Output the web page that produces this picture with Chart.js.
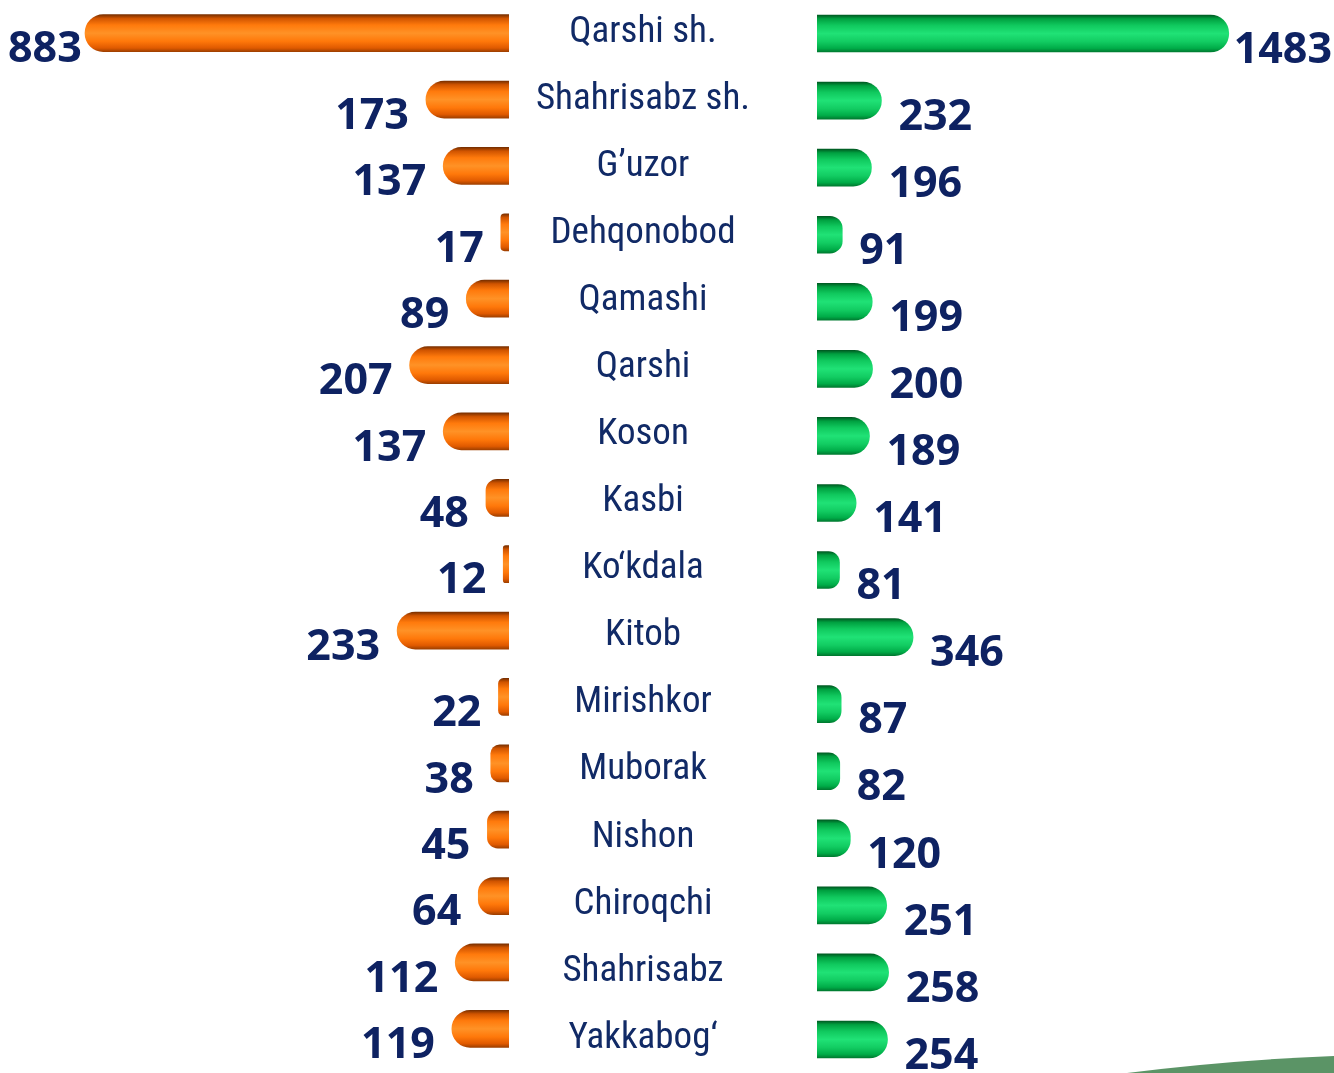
<!DOCTYPE html>
<html><head><meta charset="utf-8">
<script src="https://cdn.jsdelivr.net/npm/chart.js@4.4.1/dist/chart.umd.min.js"></script>
<style>
html,body{margin:0;padding:0;background:#fff;overflow:hidden;}
#wrap{position:relative;width:1334px;height:1073px;}
#deco{position:absolute;left:0;top:0;}
#cl{position:absolute;left:0;top:0;width:509px;height:1062px;}
#cr{position:absolute;left:469px;top:0;width:865px;height:1073px;}
</style></head><body>
<div id="wrap">
<svg id="deco" width="1334" height="1073"><path d="M1127 1073 Q1230 1060 1334 1056 L1334 1073 Z" fill="#5b9466"/></svg>
<div id="cl"><canvas id="left"></canvas></div>
<div id="cr"><canvas id="right"></canvas></div>
</div>
<script>
// ---- data ----
const categories = ["Qarshi sh.","Shahrisabz sh.","G’uzor","Dehqonobod","Qamashi","Qarshi","Koson","Kasbi","Ko‘kdala","Kitob","Mirishkor","Muborak","Nishon","Chiroqchi","Shahrisabz","Yakkabog‘"];
const orangeValues = [883,173,137,17,89,207,137,48,12,233,22,38,45,64,112,119];
const greenValues = [1483,232,196,91,199,200,189,141,81,346,87,82,120,251,258,254];

// ---- styles ----
const NAVY = '#0e2262';
const CAT_COLOR = '#112a66';
const CAT_FONT = '"Roboto Condensed", "Liberation Sans Narrow", "DejaVu Sans Condensed", sans-serif';
const VAL_FONT = 'bold 43px "Open Sans", "DejaVu Sans", sans-serif';
const BAR_H = 37;
const orangeStops = [[0,'#7a3000'],[0.1,'#d05400'],[0.28,'#ff7a0c'],[0.5,'#ff9226'],[0.72,'#ff780a'],[0.9,'#e05a00'],[1,'#a04000']];
const greenStops = [[0,'#005a22'],[0.1,'#00a040'],[0.28,'#10c95e'],[0.5,'#20e276'],[0.72,'#12cc62'],[0.9,'#00ac48'],[1,'#007a30']];

function barGradient(stops){
  return function(ctx){
    const chart = ctx.chart; const y = chart.scales && chart.scales.y;
    if(!y || ctx.type !== 'data' || !chart.chartArea) return stops[3][1];
    const yc = y.getPixelForValue(ctx.dataIndex);
    const g = chart.ctx.createLinearGradient(0, yc - BAR_H/2, 0, yc + BAR_H/2);
    stops.forEach(s => g.addColorStop(s[0], s[1]));
    return g;
  };
}

function valueLabels(side){
  return {
    id: 'vl' + side,
    afterDatasetsDraw(chart){
      const c = chart.ctx; const meta = chart.getDatasetMeta(0);
      const data = chart.data.datasets[0].data;
      c.save(); c.font = VAL_FONT; c.fillStyle = NAVY; c.textBaseline = 'middle'; c.textAlign = 'left';
      meta.data.forEach((el, i) => {
        const t = String(data[i]); const w = c.measureText(t).width;
        let x;
        if(side === 'L'){ x = el.x - 17 - w; if(x < 8) x = 8; }
        else { x = el.x + 17; if(x + w > chart.width - 2) x = chart.width - 2 - w; }
        c.fillText(t, x, el.y + 17);
      });
      c.restore();
    }
  };
}

Chart.defaults.animation = false;

new Chart(document.getElementById('left'), {
  type: 'bar',
  data: { labels: categories, datasets: [{ data: orangeValues, backgroundColor: barGradient(orangeStops), barThickness: BAR_H, borderRadius: 19, borderSkipped: 'start' }] },
  options: {
    indexAxis: 'y', responsive: true, maintainAspectRatio: false,
    layout: { padding: 0 },
    plugins: { legend: { display: false }, tooltip: { enabled: false } },
    scales: {
      x: { display: false, reverse: true, min: 0, max: 1060 },
      y: { display: false }
    }
  },
  plugins: [valueLabels('L')]
});

// measure widest category label to center the label column at x=643
const CAT_SIZE = 37;
const mc = document.createElement('canvas').getContext('2d');
mc.font = 'normal ' + CAT_SIZE + 'px ' + CAT_FONT;
const widest = Math.max(...categories.map(s => mc.measureText(s).width));
const labelPad = 817 - 643 - widest / 2;

new Chart(document.getElementById('right'), {
  type: 'bar',
  data: { labels: categories, datasets: [{ data: greenValues, backgroundColor: barGradient(greenStops), barThickness: BAR_H, borderRadius: 19, borderSkipped: 'start' }] },
  options: {
    indexAxis: 'y', responsive: true, maintainAspectRatio: false,
    layout: { padding: 0 },
    plugins: { legend: { display: false }, tooltip: { enabled: false } },
    scales: {
      x: { display: false, min: 0, max: 1862 },
      y: {
        position: 'left',
        grid: { display: false, drawTicks: false }, border: { display: false },
        ticks: { color: CAT_COLOR, font: { family: CAT_FONT, size: CAT_SIZE }, padding: labelPad, crossAlign: 'center', labelOffset: -1, autoSkip: false },
        afterFit(s){ s.width = 348; s.paddingTop = 0; s.paddingBottom = 0; }
      }
    }
  },
  plugins: [valueLabels('R')]
});
</script>
</body></html>
